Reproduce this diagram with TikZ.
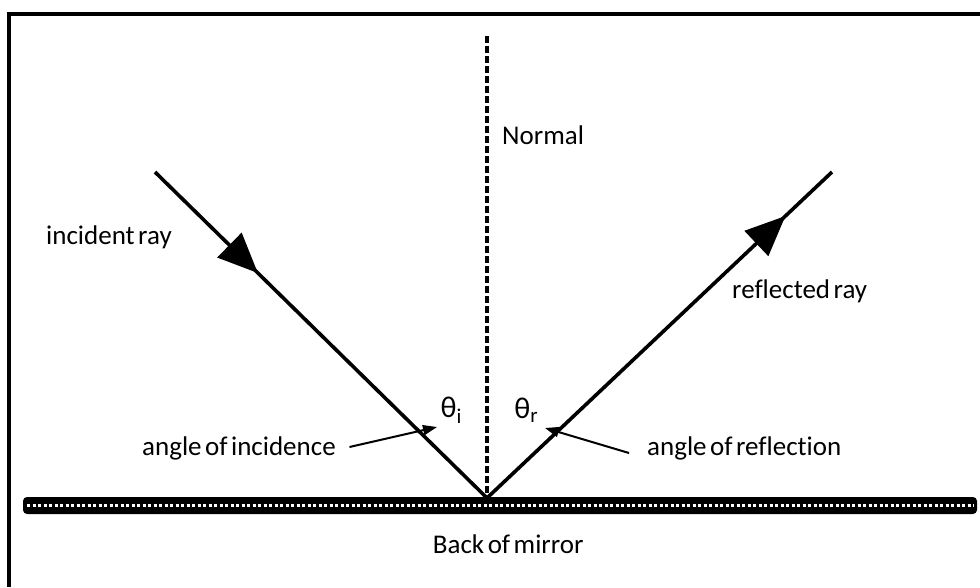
\documentclass[tikz,border=0pt]{standalone}
\usepackage{fontspec}
\setmainfont{Carlito}[Ligatures={NoCommon,NoRare}]
\usetikzlibrary{arrows.meta,decorations.markings}
\begin{document}
\begin{tikzpicture}[x=1pt,y=-1pt,
  lbl/.style={font=\fontsize{27}{30}\selectfont, inner sep=0pt, anchor=west},
  ray/.style={line width=3.6pt},
  bigarrow/.style={postaction={decorate, decoration={markings,
      mark=at position #1 with {\arrow{Triangle[length=40pt,width=34pt]}}}}},
  pointer/.style={line width=2pt, -{Triangle[length=14pt,width=10pt]}},
  frameline/.style={line width=4pt}]
\spaceskip=3.5pt\relax
\useasboundingbox (0,0) rectangle (980,587);
% frame
\coordinate (fbl) at (8.5,587);
\coordinate (ftl) at (8.5,13.5);
\coordinate (ftr) at (980,13.5);
\draw[frameline] (fbl) -- (ftl) -- (ftr);
% mirror
\coordinate (mtl) at (23,497);
\coordinate (mbr) at (977,514);
\coordinate (ml) at (27,505.5);
\coordinate (mr) at (974,505.5);
\fill[rounded corners=4pt] (mtl) rectangle (mbr);
\draw[white, line width=3.2pt, dash pattern=on 3.2pt off 2.3pt] (ml) -- (mr);
% points
\coordinate (O) at (487,498);
\coordinate (ntop) at (487,36);
\coordinate (istart) at (155,172);
\coordinate (rend) at (832,172);
% normal
\draw[line width=3.6pt, dash pattern=on 7pt off 3pt] (ntop) -- (O);
% rays
\draw[ray, bigarrow=0.31] (istart) -- (O);
\draw[ray, bigarrow=0.865] (O) -- (rend);
% labels
\node[lbl] (normal) at (502,135) {Normal};
\node[lbl] (inc) at (46,237) {incident ray};
\node[lbl] (refl) at (732,291) {reflected ray};
\node[lbl] (aoi) at (142,448) {angle of incidence};
\node[lbl] (aor) at (647,448) {angle of reflection};
\node[lbl, anchor=center] (back) at (510,544) {Back of mirror};
\node[lbl, anchor=center, font=\fontsize{30}{32}\selectfont] (thi) at (453,410) {θ\textsubscript{i}};
\node[lbl, anchor=center, font=\fontsize{30}{32}\selectfont] (thr) at (528,410) {θ\textsubscript{r}};
% pointers
\coordinate (pi) at (437,427);
\coordinate (pr) at (545,428);
\draw[pointer] ([xshift=10pt,yshift=1pt]aoi.east) -- (pi);
\draw[pointer] ([xshift=-18pt,yshift=-5pt]aor.west) -- (pr);
\end{tikzpicture}
\end{document}
